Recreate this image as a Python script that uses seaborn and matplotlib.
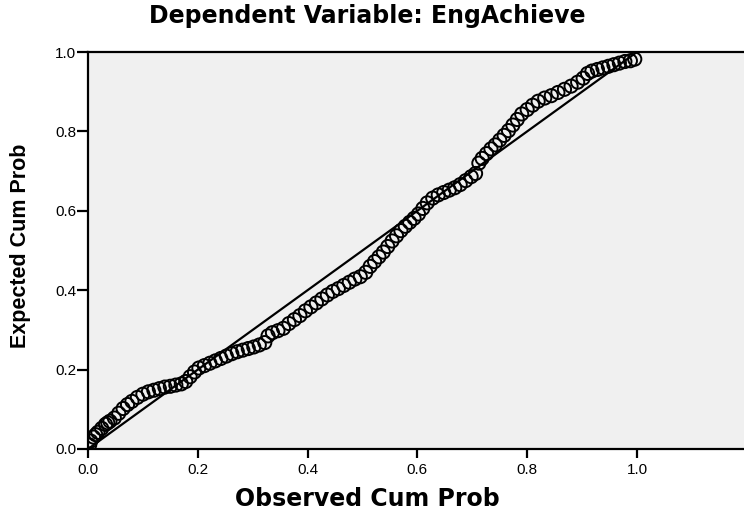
import numpy as np
import pandas as pd
import seaborn as sns
import matplotlib.pyplot as plt

# P-P plot values
observed = [0.003, 0.005, 0.010, 0.014, 0.018, 0.025, 0.032, 0.036, 0.040, 0.048,
            0.056, 0.064, 0.072, 0.080, 0.090, 0.100, 0.110, 0.120, 0.130, 0.140,
            0.150, 0.160, 0.170, 0.178, 0.186, 0.194, 0.202, 0.212, 0.222, 0.232,
            0.242, 0.252, 0.262, 0.272, 0.282, 0.292, 0.302, 0.312, 0.322, 0.328,
            0.336, 0.346, 0.356, 0.366, 0.376, 0.386, 0.396, 0.406, 0.416, 0.426,
            0.436, 0.446, 0.456, 0.466, 0.476, 0.486, 0.496, 0.506, 0.514, 0.522,
            0.530, 0.538, 0.546, 0.554, 0.562, 0.570, 0.578, 0.586, 0.594, 0.602,
            0.610, 0.618, 0.628, 0.638, 0.648, 0.658, 0.668, 0.678, 0.688, 0.698,
            0.706, 0.712, 0.718, 0.726, 0.734, 0.742, 0.750, 0.758, 0.766, 0.774,
            0.782, 0.790, 0.800, 0.810, 0.820, 0.832, 0.844, 0.856, 0.868, 0.880,
            0.892, 0.902, 0.910, 0.918, 0.928, 0.938, 0.948, 0.958, 0.968, 0.978,
            0.988, 0.996]
expected = [0.010, 0.020, 0.030, 0.036, 0.042, 0.052, 0.062, 0.066, 0.070, 0.078,
            0.090, 0.102, 0.112, 0.120, 0.130, 0.138, 0.144, 0.148, 0.152, 0.156,
            0.158, 0.161, 0.164, 0.170, 0.182, 0.194, 0.204, 0.210, 0.216, 0.222,
            0.228, 0.234, 0.240, 0.245, 0.249, 0.253, 0.257, 0.262, 0.268, 0.285,
            0.293, 0.298, 0.304, 0.316, 0.326, 0.336, 0.348, 0.358, 0.368, 0.378,
            0.388, 0.397, 0.404, 0.412, 0.420, 0.428, 0.434, 0.445, 0.460, 0.472,
            0.484, 0.496, 0.510, 0.524, 0.537, 0.550, 0.561, 0.571, 0.581, 0.592,
            0.606, 0.620, 0.632, 0.640, 0.646, 0.652, 0.658, 0.666, 0.676, 0.686,
            0.694, 0.720, 0.732, 0.744, 0.756, 0.766, 0.778, 0.790, 0.802, 0.816,
            0.830, 0.844, 0.855, 0.866, 0.876, 0.884, 0.890, 0.898, 0.906, 0.914,
            0.924, 0.934, 0.946, 0.952, 0.956, 0.960, 0.964, 0.968, 0.972, 0.976,
            0.978, 0.982]
ref_line = [0.0, 1.0]
ticks = [0.0, 0.2, 0.4, 0.6, 0.8, 1.0]
tick_labels = ['0.0', '0.2', '0.4', '0.6', '0.8', '1.0']

df = pd.DataFrame({'Observed': observed, 'Expected': expected})

sns.set_style('ticks')
plt.rcParams['font.family'] = ['Liberation Sans', 'DejaVu Sans']
plt.rcParams['text.color'] = 'black'
plt.rcParams['xtick.color'] = 'black'
plt.rcParams['ytick.color'] = 'black'

fig = plt.figure(figsize=(7.44, 5.15), dpi=100)
ax = fig.add_axes([88 / 744, 66 / 515, 1 - 88 / 744, 397 / 515])
ax.set_facecolor('#f0f0f0')

# diagonal reference line
sns.lineplot(x=ref_line, y=ref_line, color='black', linewidth=1.6, ax=ax)
sns.scatterplot(data=df, x='Observed', y='Expected', s=90, facecolors='none',
                edgecolor='black', linewidth=1.4, ax=ax, zorder=3)

ax.set_xlim(0, 1.195)
ax.set_ylim(0, 1.0)
ax.set_xticks(ticks)
ax.set_xticklabels(tick_labels)
ax.set_yticks(ticks)
ax.set_yticklabels(tick_labels)
ax.set_xlabel('')
ax.set_ylabel('')

for side in ['left', 'bottom', 'top']:
    ax.spines[side].set_linewidth(1.6)
    ax.spines[side].set_color('black')
ax.spines['right'].set_visible(False)

ax.tick_params(axis='x', length=6.5, width=1.6, pad=3.5, labelsize=11, labelcolor='black')
ax.tick_params(axis='y', length=8, width=1.6, pad=0.5, labelsize=11, labelcolor='black')

fig.text(367 / 744, 1 - 23 / 515, 'Dependent Variable: EngAchieve', ha='center',
         va='baseline', fontsize=17, fontweight='bold', family='DejaVu Sans')
fig.text(367 / 744, 1 - 506 / 515, 'Observed Cum Prob', ha='center',
         va='baseline', fontsize=17, fontweight='bold', family='DejaVu Sans')
fig.text(21 / 744, 1 - 246 / 515, 'Expected Cum Prob', ha='center', va='center',
         rotation=90, fontsize=15.5, fontweight='bold',
         family=['Liberation Sans Narrow', 'Liberation Sans'])

fig.savefig('out.png', dpi=100)
